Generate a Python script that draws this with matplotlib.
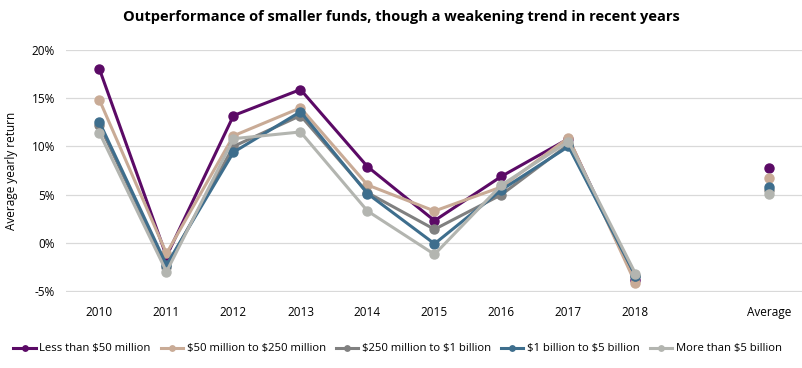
import matplotlib
matplotlib.use("Agg")
import matplotlib.pyplot as plt
import numpy as np

plt.rcParams['font.family'] = ['Open Sans', 'DejaVu Sans']
plt.rcParams['text.parse_math'] = False

years = ["2010", "2011", "2012", "2013", "2014", "2015", "2016", "2017", "2018"]
tick_labels = years + ["", "Average"]

series_names = ["Less than $50 million", "$50 million to $250 million",
                "$250 million to $1 billion", "$1 billion to $5 billion",
                "More than $5 billion"]
less_50m = [18.0, -1.4, 13.2, 15.9, 7.9, 2.3, 6.9, 10.8, -3.9]
m50_250m = [14.8, -1.1, 11.1, 14.0, 6.0, 3.3, 5.8, 10.9, -4.2]
m250_1b = [12.2, -2.5, 10.0, 13.2, 5.2, 1.4, 5.0, 10.2, -3.4]
b1_5b = [12.5, -2.3, 9.4, 13.6, 5.1, -0.1, 5.5, 10.0, -3.4]
more_5b = [11.4, -3.0, 10.8, 11.5, 3.3, -1.2, 6.0, 10.5, -3.2]
averages = [7.8, 6.7, 5.5, 5.75, 5.1]

colors = ["#5B0A66", "#C9AB96", "#808080", "#3E6E8D", "#B3B5B0"]
all_series = [less_50m, m50_250m, m250_1b, b1_5b, more_5b]

fig = plt.figure(figsize=(8.03, 3.68), dpi=100)
ax = fig.add_axes([66/803, 1-292/368, (803-66)/803, (292-50)/368])

x = np.arange(len(years))
for name, vals, c, avg in zip(series_names, all_series, colors, averages):
    ax.plot(x, vals, color=c, lw=2.2, marker='o', ms=6.5, label=name)
    ax.plot([10], [avg], color=c, marker='o', ms=6.5, lw=0)

ax.set_xlim(-0.5, 10.5)
ax.set_ylim(-5.1, 20)
ax.set_yticks([-5, 0, 5, 10, 15, 20])
ax.set_yticklabels(["-5%", "0%", "5%", "10%", "15%", "20%"])
ax.set_xticks(np.arange(11))
ax.set_xticklabels(tick_labels)
ax.tick_params(axis='both', length=0, labelsize=8.5, colors='#000000')
ax.tick_params(axis='x', pad=10)
ax.tick_params(axis='y', pad=8)
ax.grid(axis='y', color='#D9D9D9', lw=0.9)
ax.set_axisbelow(True)
for s in ax.spines.values():
    s.set_visible(False)

ax.set_ylabel("Average yearly return", fontsize=8.5, labelpad=10)
fig.text(0.5, 1-17/368, "Outperformance of smaller funds, though a weakening trend in recent years",
         ha='center', va='center', fontsize=10.5, fontweight='bold')

fig.legend(loc='center', bbox_to_anchor=(0.495, 1-349/368), ncol=5, frameon=False,
           fontsize=8.1, handlelength=2.0, handletextpad=0.3, columnspacing=0.9,
           markerscale=0.6)

fig.savefig("out.png", dpi=100)
